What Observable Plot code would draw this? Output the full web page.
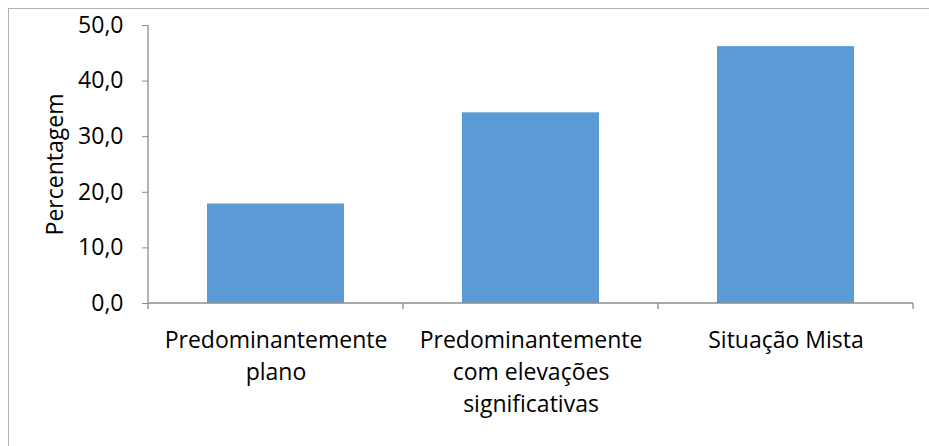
<!DOCTYPE html>
<html>
<head>
<meta charset="utf-8">
<script src="https://cdn.jsdelivr.net/npm/d3@7"></script>
<script src="https://cdn.jsdelivr.net/npm/@observablehq/plot@0.6"></script>
<style>
  html, body { margin: 0; padding: 0; background: #fff; overflow: hidden; }
  #wrap { position: relative; width: 929px; height: 446px; overflow: hidden; }
  #border { position: absolute; left: 8px; top: 8px; width: 940px; height: 470px;
            border: 1px solid #b3b3b3; box-sizing: border-box; pointer-events: none; }
</style>
</head>
<body>
<div id="wrap"><div id="border"></div></div>
<script>
const categories = ["Predominantemente\nplano", "Predominantemente\ncom elevações\nsignificativas", "Situação Mista"];
const values = [17.9, 34.3, 46.2];
const yTicks = [0, 10, 20, 30, 40, 50];
const yLabel = "Percentagem";

const data = categories.map((c, i) => ({category: c, value: values[i]}));
const fmt = d => d3.format(".1f")(d).replace(".", ",");
const axisColor = "#8c8c8c";

// Axis lines and boundary ticks (Excel style), positioned from the Plot scales
const axisLines = (index, scales, vals, dims) => {
  const g = d3.create("svg:g").attr("stroke", axisColor).attr("stroke-width", 1.3);
  const x0 = dims.marginLeft, x1 = dims.width - dims.marginRight;
  const y0 = scales.y(0), yTop = scales.y(d3.max(yTicks));
  const n = categories.length;
  const step = (x1 - x0) / n;
  g.append("line").attr("x1", x0).attr("x2", x1).attr("y1", y0).attr("y2", y0);
  g.append("line").attr("x1", x0).attr("x2", x0).attr("y1", yTop).attr("y2", y0 + 6);
  for (let k = 1; k <= n; ++k) {
    const x = x0 + k * step;
    g.append("line").attr("x1", x).attr("x2", x).attr("y1", y0).attr("y2", y0 + 6);
  }
  return g.node();
};

const chart = Plot.plot({
  width: 929,
  height: 446,
  marginLeft: 148,
  marginRight: 16,
  marginTop: 25,
  marginBottom: 143,
  style: {fontFamily: "'Open Sans', sans-serif", fontSize: "23px", color: "#000", background: "transparent"},
  x: {type: "band", domain: categories, paddingInner: 0.463, paddingOuter: 0.2315, label: null},
  y: {domain: [0, 50], label: null},
  marks: [
    Plot.barY(data, {x: "category", y: "value", fill: "#5b9bd5"}),
    axisLines,
    Plot.axisY({ticks: yTicks, tickFormat: fmt, tickSize: 6, tickPadding: 19, stroke: axisColor, fill: "#000", fontSize: 23, label: null}),
    Plot.axisX({tickSize: 0, tickPadding: 21, fill: "#000", fontSize: 23, lineHeight: 1.41, label: null}),
    Plot.text([yLabel], {frameAnchor: "left", textAnchor: "middle", rotate: -90, dx: -93, fontSize: 23, fill: "#000"})
  ]
});
document.getElementById("wrap").appendChild(chart);
chart.style.position = "absolute";
chart.style.left = "0px";
chart.style.top = "0px";
</script>
</body>
</html>
